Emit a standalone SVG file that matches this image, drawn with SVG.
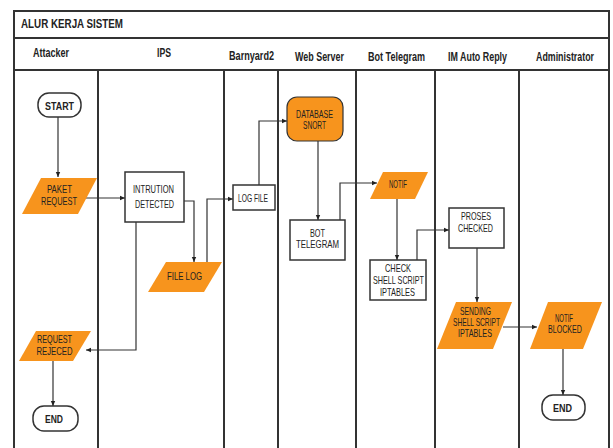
<svg xmlns="http://www.w3.org/2000/svg" width="613" height="448" viewBox="0 0 613 448">
<defs>
<marker id="arr" markerWidth="6" markerHeight="6" refX="5" refY="3" orient="auto" markerUnits="userSpaceOnUse">
<path d="M0,0.8 L5,3 L0,5.2 z" fill="#222"/>
</marker>
<style>
.frame{fill:none;stroke:#333;stroke-width:2}
.lane{stroke:#333;stroke-width:2}
.hdr{font-family:"Liberation Sans",Arial,sans-serif;font-weight:bold;font-size:12px;fill:#222;text-anchor:middle}
.title{font-family:"Liberation Sans",Arial,sans-serif;font-weight:bold;font-size:13px;fill:#222}
.box{fill:#fff;stroke:#333;stroke-width:1.5}
.term{fill:#fff;stroke:#333;stroke-width:1.5}
.io{fill:#F7941D;stroke:none}
.db{fill:#F7941D;stroke:#333;stroke-width:1.2}
.t{font-family:"Liberation Sans",Arial,sans-serif;font-size:11px;fill:#222;text-anchor:middle}
.ts{font-family:"Liberation Sans",Arial,sans-serif;font-size:10px;fill:#222;text-anchor:middle}
.tb{font-family:"Liberation Sans",Arial,sans-serif;font-weight:bold;font-size:11px;fill:#222;text-anchor:middle}
.con{fill:none;stroke:#333;stroke-width:1.2;marker-end:url(#arr)}
</style>
</defs>
<rect width="613" height="448" fill="#fff"/>
<g id="frame">
<path class="frame" d="M14,455 V11 H609 V455"/>
<line class="lane" x1="14" y1="38" x2="609" y2="38"/>
<line class="lane" x1="14" y1="70" x2="609" y2="70"/>
<line class="lane" x1="98" y1="70" x2="98" y2="455"/>
<line class="lane" x1="224" y1="70" x2="224" y2="455"/>
<line class="lane" x1="278" y1="70" x2="278" y2="455"/>
<line class="lane" x1="356" y1="70" x2="356" y2="455"/>
<line class="lane" x1="435" y1="70" x2="435" y2="455"/>
<line class="lane" x1="519" y1="70" x2="519" y2="455"/>
<text class="title" x="21" y="28" textLength="102" lengthAdjust="spacingAndGlyphs">ALUR KERJA SISTEM</text>
<text class="hdr" x="51" y="57" textLength="36" lengthAdjust="spacingAndGlyphs">Attacker</text>
<text class="hdr" x="164" y="57" textLength="14" lengthAdjust="spacingAndGlyphs">IPS</text>
<text class="hdr" x="251.5" y="60" textLength="45" lengthAdjust="spacingAndGlyphs">Barnyard2</text>
<text class="hdr" x="319.5" y="61" textLength="49" lengthAdjust="spacingAndGlyphs">Web Server</text>
<text class="hdr" x="396.5" y="61" textLength="57" lengthAdjust="spacingAndGlyphs">Bot Telegram</text>
<text class="hdr" x="477.5" y="61" textLength="59" lengthAdjust="spacingAndGlyphs">IM Auto Reply</text>
<text class="hdr" x="565" y="61" textLength="58" lengthAdjust="spacingAndGlyphs">Administrator</text>
</g>
<g id="connectors">
<path class="con" d="M58,117 V177"/>
<path class="con" d="M85,198 H125"/>
<path class="con" d="M184,201 H194 V262"/>
<path class="con" d="M207,262 V199 H233"/>
<path class="con" d="M259,185 V121 H287"/>
<path class="con" d="M318,141 V220"/>
<path class="con" d="M340,220 V183 H377"/>
<path class="con" d="M397,199 V260"/>
<path class="con" d="M417,260 V230 H449"/>
<path class="con" d="M477,248 V302"/>
<path class="con" d="M503,327 H537"/>
<path class="con" d="M563,349 V395"/>
<path class="con" d="M136,222 V350 H86"/>
<path class="con" d="M53,361 V406"/>
</g>
<g id="start">
<rect class="term" x="38" y="93" width="43" height="24" rx="11"/>
<text class="tb" x="59.5" y="110" textLength="29" lengthAdjust="spacingAndGlyphs">START</text>
</g>
<g id="paket-request">
<polygon class="io" points="41,178 97,178 78,214 22,214"/>
<text class="t" x="59.5" y="193" textLength="25" lengthAdjust="spacingAndGlyphs">PAKET</text>
<text class="t" x="59" y="205" textLength="36" lengthAdjust="spacingAndGlyphs">REQUEST</text>
</g>
<g id="intrution-detected">
<rect class="box" x="125" y="172" width="59" height="50"/>
<text class="t" x="153.5" y="193" textLength="41" lengthAdjust="spacingAndGlyphs">INTRUTION</text>
<text class="t" x="154.5" y="208" textLength="39" lengthAdjust="spacingAndGlyphs">DETECTED</text>
</g>
<g id="file-log">
<polygon class="io" points="166,262 222,262 204,292 148,292"/>
<text class="t" x="184.5" y="280" textLength="35" lengthAdjust="spacingAndGlyphs">FILE LOG</text>
</g>
<g id="log-file">
<rect class="box" x="233" y="185" width="42" height="25"/>
<text class="ts" x="253" y="202" textLength="30" lengthAdjust="spacingAndGlyphs">LOG FILE</text>
</g>
<g id="database-snort">
<rect class="db" x="287" y="97" width="56" height="44" rx="10"/>
<text class="ts" x="314.5" y="118" textLength="37" lengthAdjust="spacingAndGlyphs">DATABASE</text>
<text class="ts" x="314.5" y="129" textLength="23" lengthAdjust="spacingAndGlyphs">SNORT</text>
</g>
<g id="bot-telegram">
<rect class="box" x="290" y="220" width="55" height="40"/>
<text class="t" x="317.5" y="237" textLength="15" lengthAdjust="spacingAndGlyphs">BOT</text>
<text class="t" x="317.5" y="248" textLength="43" lengthAdjust="spacingAndGlyphs">TELEGRAM</text>
</g>
<g id="notif">
<polygon class="io" points="383,172 428,172 415,199 370,199"/>
<text class="ts" x="398" y="188" textLength="18" lengthAdjust="spacingAndGlyphs">NOTIF</text>
</g>
<g id="check-shell-script">
<rect class="box" x="370" y="260" width="56" height="40"/>
<text class="t" x="398" y="272" textLength="26" lengthAdjust="spacingAndGlyphs">CHECK</text>
<text class="t" x="398.5" y="284" textLength="51" lengthAdjust="spacingAndGlyphs">SHELL SCRIPT</text>
<text class="t" x="397.5" y="296" textLength="35" lengthAdjust="spacingAndGlyphs">IPTABLES</text>
</g>
<g id="proses-checked">
<rect class="box" x="449" y="208" width="55" height="40"/>
<text class="t" x="476" y="220" textLength="30" lengthAdjust="spacingAndGlyphs">PROSES</text>
<text class="t" x="475.5" y="232" textLength="35" lengthAdjust="spacingAndGlyphs">CHECKED</text>
</g>
<g id="sending-shell-script">
<polygon class="io" points="456,302 512,302 493,349 437,349"/>
<text class="t" x="475.5" y="315" textLength="31" lengthAdjust="spacingAndGlyphs">SENDING</text>
<text class="t" x="476.5" y="326" textLength="47" lengthAdjust="spacingAndGlyphs">SHELL SCRIPT</text>
<text class="t" x="475" y="337" textLength="34" lengthAdjust="spacingAndGlyphs">IPTABLES</text>
</g>
<g id="notif-blocked">
<polygon class="io" points="548,302 602,302 583,349 530,349"/>
<text class="t" x="564" y="322" textLength="18" lengthAdjust="spacingAndGlyphs">NOTIF</text>
<text class="t" x="565" y="333" textLength="34" lengthAdjust="spacingAndGlyphs">BLOCKED</text>
</g>
<g id="request-rejected">
<polygon class="io" points="36,331 91,331 73,361 19,361"/>
<text class="t" x="54.5" y="343" textLength="35" lengthAdjust="spacingAndGlyphs">REQUEST</text>
<text class="t" x="54.5" y="355" textLength="36" lengthAdjust="spacingAndGlyphs">REJECED</text>
</g>
<g id="end-attacker">
<rect class="term" x="33" y="406" width="45" height="25" rx="11"/>
<text class="tb" x="54" y="423" textLength="18" lengthAdjust="spacingAndGlyphs">END</text>
</g>
<g id="end-admin">
<rect class="term" x="542" y="395" width="43" height="25" rx="11"/>
<text class="tb" x="562.5" y="412" textLength="19" lengthAdjust="spacingAndGlyphs">END</text>
</g>
</svg>
